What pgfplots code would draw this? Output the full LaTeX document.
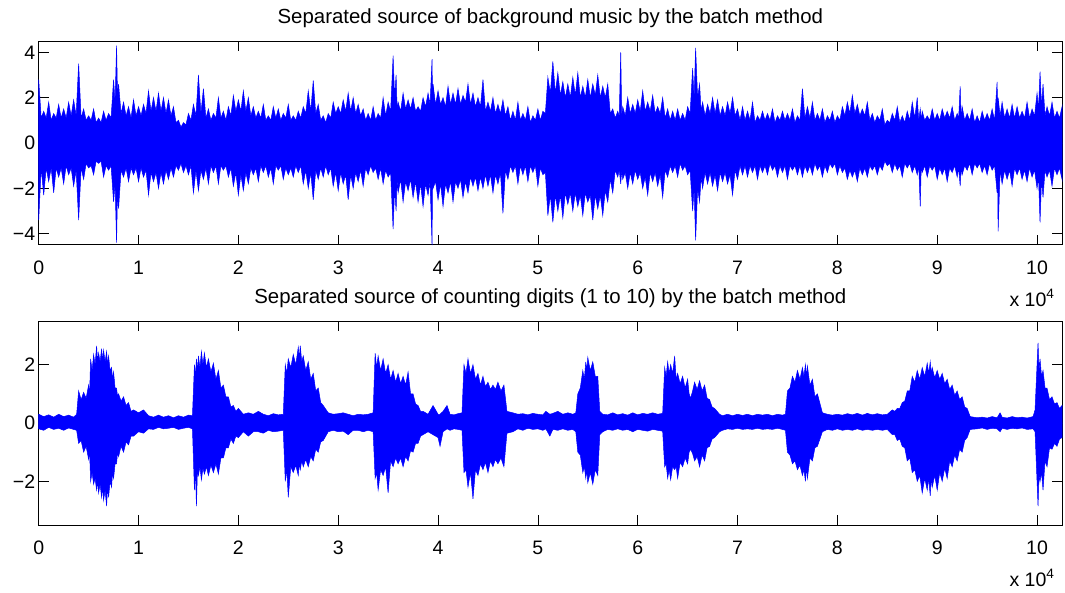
\documentclass[border=0pt]{standalone}
\usepackage{fontspec}
\setmainfont{Liberation Sans}
\usepackage{pgfplots}
\pgfplotsset{compat=1.18}
\usepackage{pgfplotstable}
\newcommand\fs{\fontsize{19.5}{23}\selectfont}
\newcommand\ft{\fontsize{20.4}{24}\selectfont}

\pgfplotstableread{
x hi lo
0.00 2.8 -3.4
0.025 1.1 -1.1
0.05 1.4 -2.3
0.075 1.1 -1.1
0.10 1.8 -1.7
0.125 1.0 -1.1
0.15 1.3 -2.2
0.175 1.1 -1.1
0.20 1.7 -1.5
0.225 1.1 -1.1
0.25 1.5 -1.8
0.275 1.1 -1.0
0.30 1.8 -1.4
0.325 1.2 -1.1
0.35 1.9 -1.9
0.375 1.2 -1.2
0.40 3.5 -3.4
0.425 1.1 -1.1
0.45 1.5 -1.6
0.475 1.0 -0.9
0.50 1.2 -1.1
0.525 1.0 -1.0
0.55 1.5 -1.4
0.575 0.9 -0.8
0.60 1.1 -0.9
0.625 0.9 -0.8
0.65 1.4 -1.5
0.675 1.0 -1.0
0.70 1.3 -1.2
0.725 1.1 -1.0
0.75 2.8 -2.6
0.765 1.8 -1.8
0.78 4.3 -4.4
0.79 2.0 -2.0
0.80 2.6 -2.9
0.825 1.3 -1.2
0.85 1.8 -1.5
0.875 1.2 -1.1
0.90 1.6 -1.7
0.925 1.1 -1.1
0.95 1.9 -1.4
0.975 1.2 -1.1
1.00 1.6 -1.7
1.025 1.2 -1.1
1.05 1.7 -1.5
1.075 1.3 -1.2
1.10 2.3 -2.3
1.125 1.4 -1.3
1.15 2.0 -1.7
1.175 1.4 -1.3
1.20 2.2 -2.0
1.225 1.4 -1.3
1.25 2.0 -1.8
1.275 1.3 -1.2
1.30 1.9 -1.6
1.325 1.2 -1.1
1.35 1.6 -1.5
1.375 0.9 -1.0
1.40 1.0 -1.2
1.425 0.7 -0.9
1.45 0.9 -1.3
1.475 0.8 -1.0
1.50 1.3 -1.4
1.525 1.0 -1.0
1.55 1.7 -2.2
1.575 1.2 -1.2
1.60 3.0 -2.1
1.625 1.3 -1.2
1.65 2.4 -1.6
1.675 1.1 -1.1
1.70 1.5 -1.8
1.725 1.0 -1.0
1.75 1.3 -1.3
1.775 1.1 -1.0
1.80 2.0 -1.8
1.825 1.1 -1.0
1.85 1.4 -1.2
1.875 1.0 -1.0
1.90 1.6 -1.5
1.925 1.2 -1.1
1.95 2.1 -1.9
1.975 1.4 -1.3
2.00 1.9 -2.3
2.025 1.4 -1.4
2.05 2.3 -2.1
2.075 1.4 -1.3
2.10 2.0 -1.8
2.125 1.2 -1.1
2.15 1.6 -1.4
2.175 1.1 -1.1
2.20 1.4 -1.7
2.225 1.1 -1.0
2.25 1.7 -1.3
2.275 1.0 -1.0
2.30 1.2 -1.5
2.325 1.0 -1.1
2.35 1.6 -1.8
2.375 1.1 -1.0
2.40 1.5 -1.2
2.425 1.0 -1.0
2.45 1.3 -1.6
2.475 1.1 -1.1
2.50 1.7 -1.4
2.525 1.0 -1.1
2.55 1.2 -1.5
2.575 1.0 -1.0
2.60 1.4 -1.3
2.625 1.1 -1.0
2.65 1.6 -1.8
2.675 1.3 -1.2
2.70 2.3 -2.0
2.725 1.4 -1.3
2.75 2.75 -2.5
2.775 1.3 -1.2
2.80 1.7 -1.6
2.825 1.0 -1.1
2.85 1.2 -1.5
2.875 0.9 -1.0
2.90 1.3 -1.4
2.925 1.1 -1.1
2.95 1.8 -1.9
2.975 1.3 -1.3
3.00 1.6 -2.1
3.025 1.3 -1.3
3.05 1.9 -1.8
3.075 1.4 -1.4
3.10 2.2 -2.5
3.125 1.4 -1.4
3.15 2.0 -2.0
3.175 1.3 -1.3
3.20 1.7 -1.7
3.225 1.2 -1.2
3.25 1.5 -1.9
3.275 1.0 -1.1
3.30 1.3 -1.4
3.325 1.0 -1.0
3.35 1.6 -1.3
3.375 1.0 -1.1
3.40 1.3 -1.6
3.425 1.1 -1.1
3.45 2.0 -1.8
3.475 1.2 -1.2
3.50 1.8 -1.5
3.525 1.4 -1.3
3.55 3.85 -3.8
3.565 2.0 -2.0
3.58 3.0 -3.0
3.59 1.5 -1.6
3.60 1.8 -2.2
3.625 1.4 -1.6
3.65 2.2 -2.6
3.675 1.5 -1.7
3.70 1.9 -2.1
3.725 1.5 -1.6
3.75 2.0 -2.4
3.775 1.4 -1.7
3.80 1.6 -2.6
3.825 1.4 -1.8
3.85 2.0 -2.8
3.875 1.6 -1.8
3.90 2.2 -2.3
3.92 1.7 -1.7
3.94 3.7 -4.5
3.945 1.9 -1.7
3.95 2.6 -2.0
3.975 1.7 -1.7
4.00 2.3 -2.5
4.025 1.7 -1.8
4.05 2.0 -2.8
4.075 1.6 -1.8
4.10 2.5 -2.2
4.125 1.7 -1.7
4.15 2.2 -2.6
4.175 1.7 -1.7
4.20 2.4 -2.0
4.225 1.7 -1.6
4.25 2.1 -2.4
4.275 1.8 -1.7
4.30 2.6 -2.2
4.325 1.7 -1.5
4.35 2.2 -1.9
4.375 1.6 -1.5
4.40 2.0 -2.1
4.425 1.6 -1.5
4.45 2.8 -2.0
4.475 1.4 -1.4
4.50 1.8 -1.9
4.525 1.4 -1.4
4.55 2.0 -2.2
4.575 1.3 -1.4
4.60 1.7 -1.8
4.625 1.3 -1.3
4.65 1.9 -3.1
4.675 1.2 -1.2
4.70 1.6 -1.6
4.725 1.0 -1.0
4.75 1.4 -1.3
4.775 1.0 -1.0
4.80 1.8 -1.8
4.825 1.0 -1.0
4.85 1.3 -1.4
4.875 1.0 -1.0
4.90 1.6 -1.7
4.925 0.9 -1.0
4.95 1.2 -1.3
4.975 1.0 -1.0
5.00 1.5 -1.9
5.025 1.0 -1.1
5.05 1.4 -1.4
5.075 1.3 -1.3
5.10 2.9 -3.2
5.125 2.2 -2.3
5.15 3.6 -3.5
5.175 2.2 -2.3
5.20 3.1 -3.0
5.225 2.1 -2.3
5.25 2.7 -3.3
5.275 2.0 -2.2
5.30 2.6 -2.7
5.325 2.0 -2.2
5.35 2.9 -3.0
5.375 2.1 -2.2
5.40 3.1 -2.8
5.425 2.0 -2.3
5.45 2.5 -3.2
5.475 2.0 -2.2
5.50 2.8 -2.6
5.525 2.0 -2.3
5.55 2.6 -3.4
5.575 2.1 -2.3
5.60 3.0 -2.9
5.625 2.0 -2.3
5.65 2.5 -3.2
5.675 2.0 -2.1
5.70 2.6 -2.6
5.725 1.3 -1.6
5.75 1.5 -2.2
5.775 1.1 -1.2
5.80 1.4 -1.5
5.815 1.2 -1.2
5.83 4.0 -1.8
5.84 1.2 -1.2
5.85 1.6 -1.6
5.875 1.2 -1.3
5.90 2.0 -2.0
5.925 1.3 -1.3
5.95 1.7 -1.8
5.975 1.3 -1.2
6.00 1.9 -1.6
6.025 1.4 -1.3
6.05 2.3 -2.0
6.075 1.4 -1.5
6.10 1.8 -2.3
6.125 1.4 -1.3
6.15 2.1 -1.7
6.175 1.3 -1.3
6.20 1.6 -1.9
6.225 1.3 -1.4
6.25 2.0 -2.4
6.275 1.1 -1.2
6.30 1.5 -1.5
6.325 1.0 -1.0
6.35 1.4 -1.3
6.375 1.0 -1.0
6.40 1.5 -1.5
6.425 1.0 -0.9
6.45 1.3 -1.2
6.475 1.0 -1.0
6.50 1.6 -1.4
6.525 1.3 -1.2
6.55 3.3 -3.0
6.565 2.0 -2.0
6.58 4.2 -4.3
6.60 2.0 -2.0
6.62 2.6 -2.6
6.635 1.4 -1.5
6.65 1.8 -2.0
6.675 1.2 -1.3
6.70 1.7 -1.8
6.725 1.3 -1.3
6.75 2.0 -1.9
6.775 1.3 -1.4
6.80 1.9 -2.1
6.825 1.2 -1.3
6.85 1.6 -1.7
6.875 1.2 -1.3
6.90 1.8 -1.8
6.925 1.3 -1.4
6.95 2.0 -2.3
6.975 1.2 -1.2
7.00 1.5 -1.6
7.025 1.0 -1.0
7.05 1.6 -1.4
7.075 1.0 -1.0
7.10 1.4 -1.5
7.125 1.0 -1.0
7.15 1.8 -1.3
7.175 0.9 -1.0
7.20 1.2 -1.6
7.225 1.0 -1.0
7.25 1.4 -1.3
7.275 1.0 -1.0
7.30 1.3 -1.4
7.325 1.0 -0.9
7.35 1.5 -1.2
7.375 0.9 -1.0
7.40 1.2 -1.5
7.425 1.0 -1.0
7.45 1.4 -1.3
7.475 1.0 -1.0
7.50 1.3 -1.6
7.525 1.0 -1.0
7.55 1.5 -1.2
7.575 0.9 -1.0
7.60 1.2 -1.4
7.625 1.0 -1.0
7.65 2.4 -1.5
7.675 1.1 -1.0
7.70 1.6 -1.3
7.725 1.1 -1.0
7.75 1.8 -1.4
7.775 1.0 -0.9
7.80 1.3 -1.2
7.825 1.0 -1.0
7.85 1.5 -1.5
7.875 0.9 -1.0
7.90 1.2 -1.3
7.925 1.0 -0.9
7.95 1.4 -1.1
7.975 0.9 -0.9
8.00 1.2 -1.4
8.025 1.0 -1.0
8.05 1.6 -1.3
8.075 1.2 -1.1
8.10 1.8 -1.6
8.125 1.3 -1.2
8.15 2.1 -1.5
8.175 1.3 -1.2
8.20 1.7 -1.7
8.225 1.2 -1.1
8.25 1.5 -1.4
8.275 1.2 -1.1
8.30 1.8 -1.5
8.325 1.0 -1.0
8.35 1.3 -1.2
8.375 0.9 -1.0
8.40 1.2 -1.4
8.425 1.0 -1.0
8.45 1.5 -1.2
8.475 0.8 -0.8
8.50 1.0 -1.0
8.525 0.9 -0.9
8.55 1.3 -1.3
8.575 1.0 -0.9
8.60 1.6 -1.2
8.625 0.9 -1.0
8.65 1.2 -1.5
8.675 0.9 -0.9
8.70 1.4 -1.1
8.725 1.0 -0.9
8.75 1.8 -1.3
8.775 1.1 -1.0
8.80 2.0 -1.4
8.815 1.0 -1.0
8.83 1.5 -2.8
8.84 1.0 -1.0
8.85 1.4 -1.3
8.875 1.0 -1.0
8.90 1.2 -1.5
8.925 1.0 -1.0
8.95 1.5 -1.2
8.975 1.0 -1.0
9.00 1.3 -1.6
9.025 1.0 -1.1
9.05 1.5 -1.4
9.075 1.1 -1.1
9.10 1.4 -1.7
9.125 1.1 -1.1
9.15 1.6 -1.3
9.175 1.0 -1.0
9.20 1.3 -1.5
9.215 1.1 -1.1
9.23 2.5 -1.9
9.24 1.1 -1.1
9.25 1.6 -1.4
9.275 1.0 -1.0
9.30 1.3 -1.2
9.325 1.0 -0.9
9.35 1.5 -1.4
9.375 0.9 -0.9
9.40 1.2 -1.1
9.425 0.9 -0.9
9.45 1.4 -1.3
9.475 1.0 -1.0
9.50 1.3 -1.4
9.525 1.0 -0.9
9.55 1.5 -1.2
9.575 1.0 -1.0
9.60 2.7 -2.2
9.605 1.5 -1.5
9.61 2.0 -3.9
9.63 1.2 -1.2
9.65 1.8 -1.8
9.675 1.1 -1.2
9.70 1.5 -1.6
9.725 1.1 -1.2
9.75 1.7 -1.9
9.775 1.1 -1.1
9.80 1.6 -1.4
9.825 1.1 -1.1
9.85 1.4 -1.6
9.875 1.1 -1.2
9.90 1.8 -1.7
9.925 1.1 -1.1
9.95 1.5 -1.5
9.975 1.2 -1.2
10.00 2.2 -2.0
10.015 1.5 -1.5
10.03 3.15 -3.5
10.045 1.6 -1.6
10.06 2.6 -2.4
10.08 1.2 -1.2
10.10 1.6 -1.5
10.125 1.2 -1.2
10.15 1.8 -1.9
10.175 1.1 -1.1
10.20 1.4 -1.4
10.225 1.1 -1.1
10.25 1.6 -1.6
}\topdata

\pgfplotstableread{
x hi lo
0.00 0.30 -0.20
0.05 0.22 -0.25
0.10 0.28 -0.15
0.15 0.20 -0.22
0.20 0.30 -0.18
0.25 0.22 -0.25
0.30 0.27 -0.17
0.35 0.20 -0.22
0.38 0.30 -0.25
0.40 1.10 -0.70
0.425 0.80 -0.60
0.45 1.05 -1.00
0.475 0.85 -0.80
0.50 1.30 -1.25
0.51 1.00 -1.00
0.52 2.20 -2.00
0.535 1.80 -1.70
0.55 2.35 -2.10
0.565 2.00 -1.90
0.58 2.65 -2.30
0.59 2.10 -2.00
0.60 2.40 -2.40
0.615 2.10 -2.10
0.63 2.55 -2.55
0.64 2.15 -2.20
0.65 2.50 -2.65
0.665 2.10 -2.30
0.68 2.45 -2.85
0.69 2.00 -2.20
0.70 2.30 -2.55
0.715 1.80 -2.00
0.73 1.90 -2.20
0.74 1.50 -1.70
0.75 1.75 -1.90
0.765 1.20 -1.40
0.78 1.20 -1.40
0.79 0.90 -1.00
0.80 1.00 -1.15
0.825 0.75 -0.80
0.85 0.90 -1.00
0.875 0.60 -0.65
0.90 0.70 -0.75
0.925 0.40 -0.45
0.95 0.45 -0.45
1.00 0.35 -0.30
1.05 0.45 -0.35
1.10 0.25 -0.20
1.15 0.20 -0.22
1.20 0.27 -0.15
1.25 0.20 -0.20
1.30 0.25 -0.18
1.35 0.18 -0.15
1.40 0.25 -0.22
1.45 0.20 -0.18
1.50 0.27 -0.15
1.54 0.25 -0.20
1.56 2.00 -2.30
1.57 1.60 -1.60
1.58 2.20 -2.85
1.59 1.80 -1.60
1.60 2.30 -1.80
1.615 1.90 -1.50
1.63 2.45 -1.95
1.645 2.00 -1.55
1.66 2.40 -1.75
1.68 1.90 -1.50
1.70 2.20 -1.80
1.725 1.75 -1.45
1.75 2.05 -1.70
1.775 1.50 -1.40
1.80 1.80 -1.75
1.825 1.20 -1.20
1.85 1.30 -1.20
1.875 0.90 -0.85
1.90 0.90 -0.85
1.925 0.55 -0.55
1.95 0.60 -0.70
1.975 0.40 -0.45
2.00 0.50 -0.50
2.05 0.30 -0.30
2.10 0.35 -0.45
2.15 0.30 -0.30
2.20 0.40 -0.30
2.25 0.30 -0.35
2.30 0.25 -0.25
2.35 0.32 -0.30
2.40 0.28 -0.28
2.45 0.30 -0.25
2.47 2.00 -2.00
2.485 1.70 -1.60
2.50 2.20 -2.55
2.525 1.90 -1.50
2.55 2.35 -1.70
2.575 2.00 -1.45
2.60 2.60 -1.80
2.61 2.20 -1.40
2.62 2.65 -1.60
2.635 2.10 -1.30
2.65 2.30 -1.50
2.675 1.80 -1.25
2.70 2.10 -1.50
2.725 1.50 -1.15
2.75 1.70 -1.30
2.775 1.10 -0.90
2.80 1.20 -1.00
2.825 0.70 -0.65
2.85 0.60 -0.60
2.90 0.35 -0.30
2.95 0.30 -0.25
3.00 0.32 -0.30
3.05 0.35 -0.28
3.10 0.30 -0.40
3.15 0.25 -0.25
3.20 0.30 -0.25
3.25 0.28 -0.30
3.30 0.30 -0.25
3.35 0.35 -0.30
3.37 2.40 -1.90
3.385 1.90 -1.70
3.40 2.30 -2.30
3.425 1.80 -1.60
3.45 2.20 -1.80
3.475 1.70 -1.50
3.50 2.00 -2.40
3.525 1.50 -1.30
3.55 1.80 -1.50
3.575 1.40 -1.20
3.60 1.70 -1.40
3.625 1.35 -1.20
3.65 1.60 -1.50
3.675 1.30 -1.15
3.70 1.75 -1.30
3.725 1.00 -0.95
3.75 1.00 -1.00
3.775 0.65 -0.70
3.80 0.60 -0.70
3.825 0.40 -0.45
3.85 0.40 -0.40
3.90 0.30 -0.30
3.95 0.60 -0.40
4.00 0.30 -0.50
4.02 0.30 -0.80
4.05 0.40 -0.30
4.09 0.60 -0.20
4.12 0.30 -0.25
4.16 0.28 -0.20
4.20 0.32 -0.22
4.24 0.35 -0.25
4.26 2.00 -1.70
4.28 1.70 -1.60
4.30 2.20 -2.20
4.325 1.70 -1.70
4.35 2.00 -2.60
4.375 1.50 -1.60
4.40 1.70 -1.80
4.425 1.30 -1.40
4.45 1.60 -1.60
4.475 1.25 -1.35
4.50 1.40 -1.70
4.525 1.15 -1.30
4.55 1.30 -1.50
4.575 1.15 -1.25
4.60 1.40 -1.40
4.63 1.10 -1.20
4.66 1.30 -1.50
4.69 0.40 -0.35
4.75 0.35 -0.30
4.80 0.30 -0.20
4.85 0.32 -0.25
4.90 0.28 -0.18
4.95 0.33 -0.22
5.00 0.30 -0.20
5.05 0.28 -0.25
5.08 0.40 -0.20
5.12 0.30 -0.45
5.15 0.33 -0.22
5.20 0.40 -0.25
5.25 0.30 -0.20
5.30 0.35 -0.25
5.35 0.30 -0.22
5.38 0.35 -0.30
5.40 1.00 -1.00
5.425 1.20 -1.10
5.45 1.80 -1.70
5.465 1.50 -1.50
5.48 2.10 -1.90
5.49 1.80 -1.60
5.50 2.25 -2.05
5.525 1.80 -1.70
5.55 2.10 -2.10
5.575 1.60 -1.60
5.60 1.60 -1.80
5.62 0.40 -0.40
5.65 0.30 -0.30
5.70 0.28 -0.22
5.75 0.35 -0.25
5.80 0.28 -0.20
5.85 0.32 -0.25
5.90 0.27 -0.22
5.95 0.35 -0.30
6.00 0.28 -0.22
6.05 0.33 -0.25
6.10 0.30 -0.28
6.15 0.35 -0.22
6.20 0.30 -0.25
6.25 0.33 -0.28
6.27 1.90 -1.50
6.285 1.60 -1.40
6.30 2.10 -1.90
6.315 1.70 -1.60
6.33 2.00 -1.95
6.35 1.70 -1.50
6.37 2.30 -1.60
6.385 1.50 -1.50
6.40 1.70 -1.90
6.425 1.35 -1.35
6.45 1.60 -1.50
6.475 1.20 -1.20
6.50 1.50 -1.40
6.515 1.00 -1.00
6.53 0.85 -0.90
6.55 1.10 -1.05
6.57 1.40 -1.30
6.595 1.15 -1.15
6.62 1.45 -1.50
6.645 1.10 -1.10
6.67 1.30 -1.30
6.695 0.85 -0.85
6.72 0.80 -0.80
6.745 0.55 -0.55
6.77 0.50 -0.50
6.82 0.30 -0.30
6.85 0.25 -0.25
6.90 0.30 -0.20
6.95 0.25 -0.22
7.00 0.30 -0.18
7.05 0.26 -0.22
7.10 0.30 -0.20
7.15 0.25 -0.22
7.20 0.30 -0.18
7.25 0.27 -0.22
7.30 0.30 -0.20
7.35 0.25 -0.22
7.40 0.30 -0.18
7.45 0.27 -0.22
7.48 0.30 -0.25
7.50 1.10 -1.00
7.525 1.20 -1.10
7.55 1.60 -1.40
7.575 1.40 -1.30
7.60 1.80 -1.60
7.625 1.50 -1.45
7.65 1.90 -1.80
7.665 1.60 -1.60
7.68 2.00 -2.00
7.69 1.60 -1.50
7.70 1.95 -1.90
7.725 1.30 -1.20
7.75 1.50 -1.30
7.775 0.90 -0.85
7.80 1.00 -0.80
7.85 0.35 -0.30
7.90 0.30 -0.22
7.95 0.27 -0.25
8.00 0.30 -0.20
8.05 0.27 -0.25
8.10 0.32 -0.22
8.15 0.28 -0.25
8.20 0.33 -0.20
8.25 0.27 -0.25
8.30 0.33 -0.22
8.35 0.28 -0.25
8.40 0.32 -0.22
8.45 0.28 -0.25
8.50 0.30 -0.22
8.55 0.45 -0.40
8.575 0.40 -0.40
8.60 0.50 -0.60
8.625 0.50 -0.55
8.65 0.70 -0.80
8.675 0.75 -0.85
8.70 1.10 -1.30
8.725 1.10 -1.20
8.75 1.60 -1.70
8.775 1.40 -1.60
8.80 1.80 -2.00
8.825 1.50 -1.80
8.85 1.90 -2.40
8.875 1.60 -1.90
8.90 2.05 -2.30
8.915 1.70 -1.90
8.93 2.10 -2.50
8.94 1.70 -1.90
8.95 1.90 -2.20
8.975 1.55 -1.80
9.00 1.80 -2.30
9.025 1.50 -1.70
9.05 1.70 -2.00
9.075 1.35 -1.55
9.10 1.50 -1.90
9.125 1.15 -1.30
9.15 1.30 -1.50
9.175 0.95 -1.10
9.20 1.10 -1.30
9.225 0.80 -0.90
9.25 0.90 -1.00
9.275 0.55 -0.60
9.30 0.50 -0.50
9.33 0.22 -0.22
9.40 0.18 -0.20
9.45 0.20 -0.17
9.50 0.17 -0.22
9.55 0.22 -0.18
9.60 0.18 -0.20
9.63 0.35 -0.30
9.65 0.20 -0.18
9.70 0.17 -0.22
9.75 0.22 -0.18
9.80 0.18 -0.20
9.85 0.20 -0.17
9.90 0.17 -0.22
9.96 0.22 -0.20
9.98 0.45 -0.30
10.00 2.00 -2.00
10.01 2.75 -2.85
10.02 1.80 -1.80
10.03 2.20 -2.00
10.045 1.60 -1.70
10.06 1.80 -2.30
10.08 1.20 -1.30
10.10 1.20 -1.50
10.125 0.80 -0.85
10.15 0.90 -0.90
10.175 0.65 -0.70
10.20 0.70 -0.80
10.225 0.50 -0.55
10.25 0.60 -0.50
}\botdata

\pgfplotsset{wave/.style={
  scale only axis, width=1023.3pt, height=204pt,
  xmin=0, xmax=10.25, clip=false,
  axis line style={black, line width=1pt},
  tick align=inside, major tick length=10pt,
  tick style={black, line width=0.7pt},
  xtick pos=both, ytick pos=both,
  xticklabel pos=bottom, yticklabel pos=left,
  xtick={0,1,...,10}, xticklabels={0,1,2,3,4,5,6,7,8,9,10},
  xticklabel style={font=\fs, anchor=center, yshift=-23pt},
  yticklabel style={font=\fs},
  minor tick num=0,
}, env/.style={blue, fill=blue, line width=0.5pt, line join=miter}}

\begin{document}
\begin{tikzpicture}
\begin{axis}[wave, at={(38.7pt,347pt)}, anchor=south west,
  ymin=-4.5, ymax=4.5, ytick={-4,-2,0,2,4}, yticklabels={−4,−2,0,2,4}]
\addplot[env] table[x=x,y=hi]{\topdata} \closedcycle;
\addplot[env] table[x=x,y=lo]{\topdata} \closedcycle;
\node[font=\ft] at (rel axis cs:0.5,1) [yshift=23pt] {Separated source of background music by the batch method};
\node[font=\fs, anchor=east] at (rel axis cs:1,0) [xshift=-4pt,yshift=-53pt] {x 10\textsuperscript{4}};
\end{axis}
\begin{axis}[wave, at={(38.7pt,67pt)}, anchor=south west,
  ymin=-3.5, ymax=3.5, ytick={-2,0,2}, yticklabels={−2,0,2}]
\addplot[env] table[x=x,y=hi]{\botdata} \closedcycle;
\addplot[env] table[x=x,y=lo]{\botdata} \closedcycle;
\node[font=\ft] at (rel axis cs:0.5,1) [yshift=23pt] {Separated source of counting digits (1 to 10) by the batch method};
\node[font=\fs, anchor=east] at (rel axis cs:1,0) [xshift=-4pt,yshift=-53pt] {x 10\textsuperscript{4}};
\end{axis}
\path (0,0) rectangle (1065pt,592pt);
\end{tikzpicture}
\end{document}
